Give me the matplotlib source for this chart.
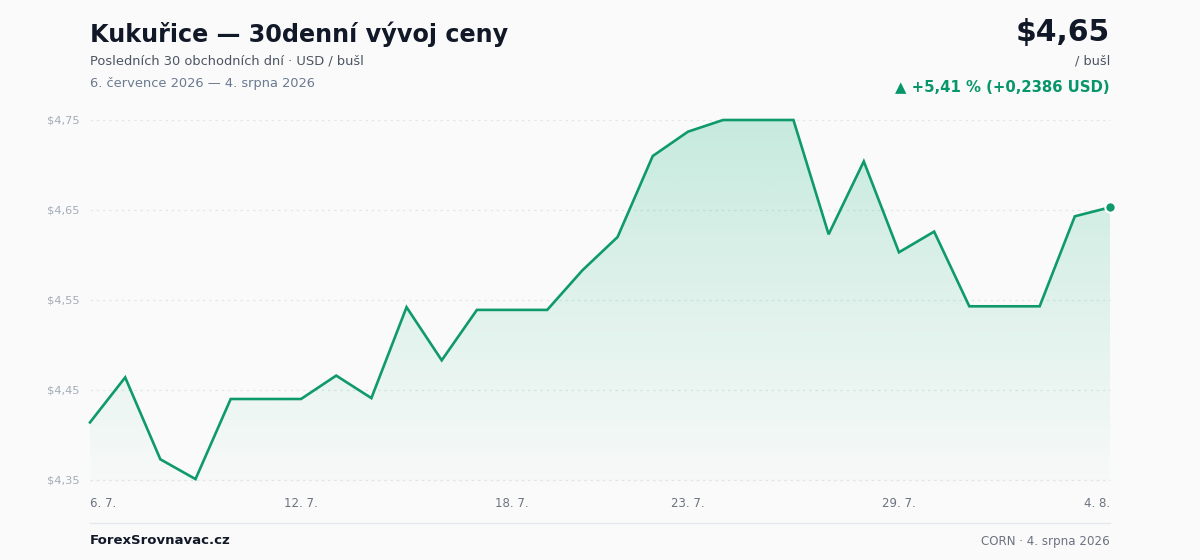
import numpy as np
import matplotlib
matplotlib.use("Agg")
import matplotlib.pyplot as plt
from matplotlib.patches import Polygon

plt.rcParams["font.family"] = ["DejaVu Sans"]

# ---- data ----
dates = ["6. 7.", "7. 7.", "8. 7.", "9. 7.", "10. 7.", "11. 7.", "12. 7.", "13. 7.", "14. 7.", "15. 7.",
         "16. 7.", "17. 7.", "18. 7.", "19. 7.", "20. 7.", "21. 7.", "22. 7.", "23. 7.", "24. 7.", "25. 7.",
         "26. 7.", "27. 7.", "28. 7.", "29. 7.", "30. 7.", "31. 7.", "1. 8.", "2. 8.", "3. 8.", "4. 8."]
prices = [4.414, 4.464, 4.373, 4.351, 4.440, 4.440, 4.440, 4.466, 4.441, 4.542,
          4.483, 4.539, 4.539, 4.539, 4.583, 4.620, 4.710, 4.737, 4.750, 4.750,
          4.750, 4.623, 4.704, 4.603, 4.626, 4.543, 4.543, 4.543, 4.643, 4.653]
xtick_idx = [0, 6, 12, 17, 23, 29]
yticks = [4.35, 4.45, 4.55, 4.65, 4.75]
ytick_labels = ["$4,35", "$4,45", "$4,55", "$4,65", "$4,75"]

GREEN = "#0f9a6b"
BG = "#fafafa"

W, H = 1200, 560
fig = plt.figure(figsize=(W / 100, H / 100), dpi=100, facecolor=BG)

ylo, yhi = 4.344, 4.756
px_per = 900.0  # pixels per 1.0 price
y_top_px = 120 - (yhi - 4.75) * px_per
y_bot_px = 480 + (4.35 - ylo) * px_per
ax = fig.add_axes([90 / W, 1 - y_bot_px / H, 1020 / W, (y_bot_px - y_top_px) / H])
ax.set_facecolor(BG)
x = np.arange(len(prices))
ax.set_xlim(0, len(prices) - 1)
ax.set_ylim(ylo, yhi)

# gradient fill
verts = [(0, ylo)] + list(zip(x, prices)) + [(x[-1], ylo)]
poly = Polygon(verts, closed=True, facecolor="none", edgecolor="none")
ax.add_patch(poly)
grad = np.linspace(0, 1, 256)
rgb = matplotlib.colors.to_rgb("#10b27a")
img = np.zeros((256, 1, 4))
img[..., 0] = rgb[0]
img[..., 1] = rgb[1]
img[..., 2] = rgb[2]
img[:, 0, 3] = 0.01 + 0.21 * grad[::-1]
im = ax.imshow(img, extent=[0, x[-1], ylo, max(prices)], aspect="auto", origin="upper", zorder=1)
im.set_clip_path(poly)

for yv in yticks:
    ax.axhline(yv, color="#e3e6ea", lw=0.9, ls=(0, (2, 3)), zorder=0.5, clip_on=False)

ax.plot(x, prices, color=GREEN, lw=1.9, zorder=3, clip_on=False, solid_joinstyle="miter")
ax.plot([x[-1]], [prices[-1]], "o", ms=7.5, color=GREEN, mec="white", mew=1.5, zorder=4, clip_on=False)

for s in ax.spines.values():
    s.set_visible(False)
ax.set_yticks(yticks)
ax.set_yticklabels(ytick_labels)
ax.tick_params(axis="y", length=0, pad=7.5, labelsize=8.2, labelcolor="#a3acb9")
ax.set_xticks(xtick_idx)
ax.set_xticklabels([dates[i] for i in xtick_idx])
ax.tick_params(axis="x", length=0, pad=8, labelsize=8.5, labelcolor="#6b7280")
xl = ax.get_xticklabels()
xl[0].set_ha("left")
xl[-1].set_ha("right")

# header
fig.text(90 / W, 1 - 34 / H, "Kukuřice — 30denní vývoj ceny", fontsize=17.2, fontweight="bold",
         color="#111827", va="center", ha="left")
fig.text(90 / W, 1 - 61 / H, "Posledních 30 obchodních dní · USD / bušl", fontsize=9.4,
         color="#4b5563", va="center", ha="left")
fig.text(90 / W, 1 - 83 / H, "6. července 2026 — 4. srpna 2026", fontsize=9.4,
         color="#6b7a90", va="center", ha="left")
fig.text(1110 / W, 1 - 33 / H, "$4,65", fontsize=21.5, fontweight="bold",
         color="#111827", va="center", ha="right")
fig.text(1110 / W, 1 - 61 / H, "/ bušl", fontsize=9.3, color="#4b5563", va="center", ha="right")
fig.text(1110 / W, 1 - 87 / H, "▲ +5,41 % (+0,2386 USD)", fontsize=10.7, fontweight="bold",
         color="#079669", va="center", ha="right")

# footer
fig.add_artist(plt.Line2D([90 / W, 1110 / W], [1 - 523 / H, 1 - 523 / H], color="#e5e7eb", lw=1))
fig.text(90 / W, 1 - 541 / H, "ForexSrovnavac.cz", fontsize=9.5, fontweight="bold",
         color="#111827", va="center", ha="left")
fig.text(1110 / W, 1 - 541 / H, "CORN · 4. srpna 2026", fontsize=8.6,
         color="#6b7280", va="center", ha="right")

fig.savefig("out.png", dpi=100, facecolor=BG)
